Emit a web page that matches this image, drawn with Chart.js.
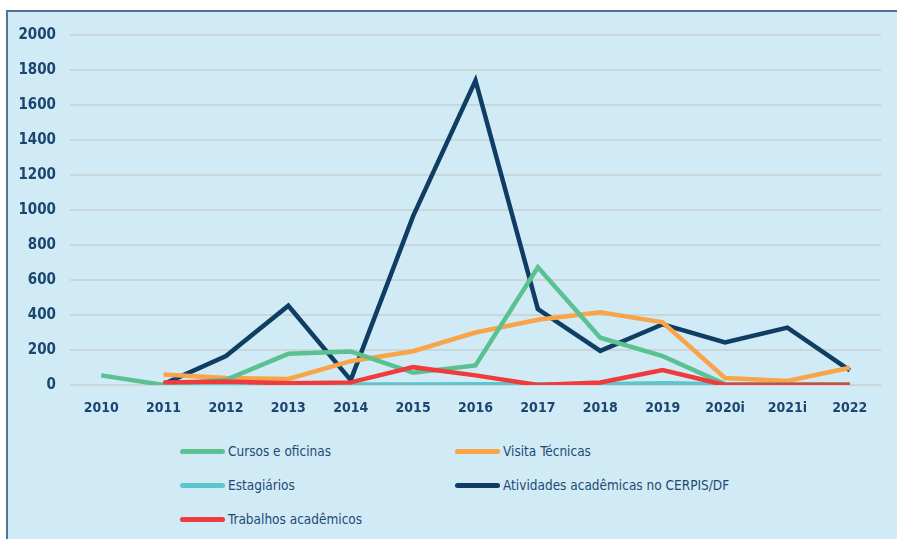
<!DOCTYPE html>
<html>
<head>
<meta charset="utf-8">
<script src="https://cdn.jsdelivr.net/npm/chart.js@4/dist/chart.umd.min.js"></script>
<style>
  html, body { margin: 0; padding: 0; background: #ffffff; }
  body { width: 897px; height: 539px; position: relative; overflow: hidden; }
  #panel { position: absolute; left: 6px; top: 10px; width: 900px; height: 540px;
           background: #d1ebf6; border: 2px solid #4d7699; box-sizing: border-box; }
  #wrap { position: absolute; left: 8px; top: 12px; width: 889px; height: 418px; }
  #legend { position: absolute; left: 180px; top: 434px; display: grid;
            grid-template-columns: 275px 300px; grid-auto-rows: 34px;
            font-family: 'DejaVu Sans Condensed', sans-serif;
            font-size: 13.5px; color: #1d4a73; }
  .item { display: flex; align-items: center; }
  .sw { width: 45px; height: 5px; border-radius: 3px; margin-right: 3px; }
</style>
</head>
<body>
<div id="panel"></div>
<div id="wrap"><canvas id="c"></canvas></div>
<div id="legend"></div>
<script>
const categories = ['2010','2011','2012','2013','2014','2015','2016','2017','2018','2019','2020i','2021i','2022'];
const cursos      = [55, 0, 30, 178, 192, 70, 112, 673, 270, 165, 5, 5, 5];
const visitas     = [null, 60, 40, 35, 136, 193, 300, 373, 415, 358, 40, 23, 99];
const estagiarios = [null, 2, 3, 3, 3, 3, 5, 5, 5, 10, 5, 3, 3];
const atividades  = [null, 5, 165, 453, 28, 965, 1740, 434, 195, 347, 243, 328, 84];
const trabalhos   = [null, 15, 20, 10, 15, 102, 55, 0, 14, 85, 0, 0, 0];
const yTicks = [0, 200, 400, 600, 800, 1000, 1200, 1400, 1600, 1800, 2000];

const seriesNames = ['Cursos e oficinas','Visita Técnicas','Estagiários','Atividades acadêmicas no CERPIS/DF','Trabalhos acadêmicos'];
const seriesColors = ['#5cc190','#f9a448','#5bc6cc','#0f3d63','#ee3b3e'];
const seriesData = [cursos, visitas, estagiarios, atividades, trabalhos];
const order = [1, 2, 4, 3, 0];

const tickFont = { family: "'DejaVu Sans Condensed', sans-serif", size: 15, weight: 'bold' };

const chart = new Chart(document.getElementById('c'), {
  type: 'line',
  data: {
    labels: categories,
    datasets: seriesData.map((d, i) => ({
      label: seriesNames[i], data: d, borderColor: seriesColors[i], backgroundColor: seriesColors[i],
      borderWidth: 4.5, pointRadius: 0, tension: 0, order: order[i], spanGaps: false
    }))
  },
  options: {
    responsive: true, maintainAspectRatio: false, animation: false,
    layout: { padding: { left: 0, right: 16, top: 16, bottom: 0 } },
    plugins: { legend: { display: false }, tooltip: { enabled: false } },
    scales: {
      x: {
        offset: true,
        grid: { display: false, drawTicks: false },
        border: { display: false },
        ticks: { color: '#1b4670', font: { ...tickFont, size: 14 }, padding: 15, maxRotation: 0, autoSkip: false },
        afterFit: s => { s.height = 45; }
      },
      y: {
        min: 0, max: 2000,
        afterBuildTicks: s => { s.ticks = yTicks.map(v => ({ value: v })); },
        grid: { color: '#c9d6da', lineWidth: 2, drawTicks: false },
        border: { display: false },
        ticks: { color: '#1b4670', font: tickFont, padding: 14, callback: v => String(v) },
        afterFit: s => { s.width = 62; }
      }
    }
  }
});

const leg = document.getElementById('legend');
chart.data.datasets.forEach(ds => {
  const it = document.createElement('div'); it.className = 'item';
  const sw = document.createElement('span'); sw.className = 'sw'; sw.style.background = ds.borderColor;
  const tx = document.createElement('span'); tx.textContent = ds.label;
  it.appendChild(sw); it.appendChild(tx); leg.appendChild(it);
});
</script>
</body>
</html>
